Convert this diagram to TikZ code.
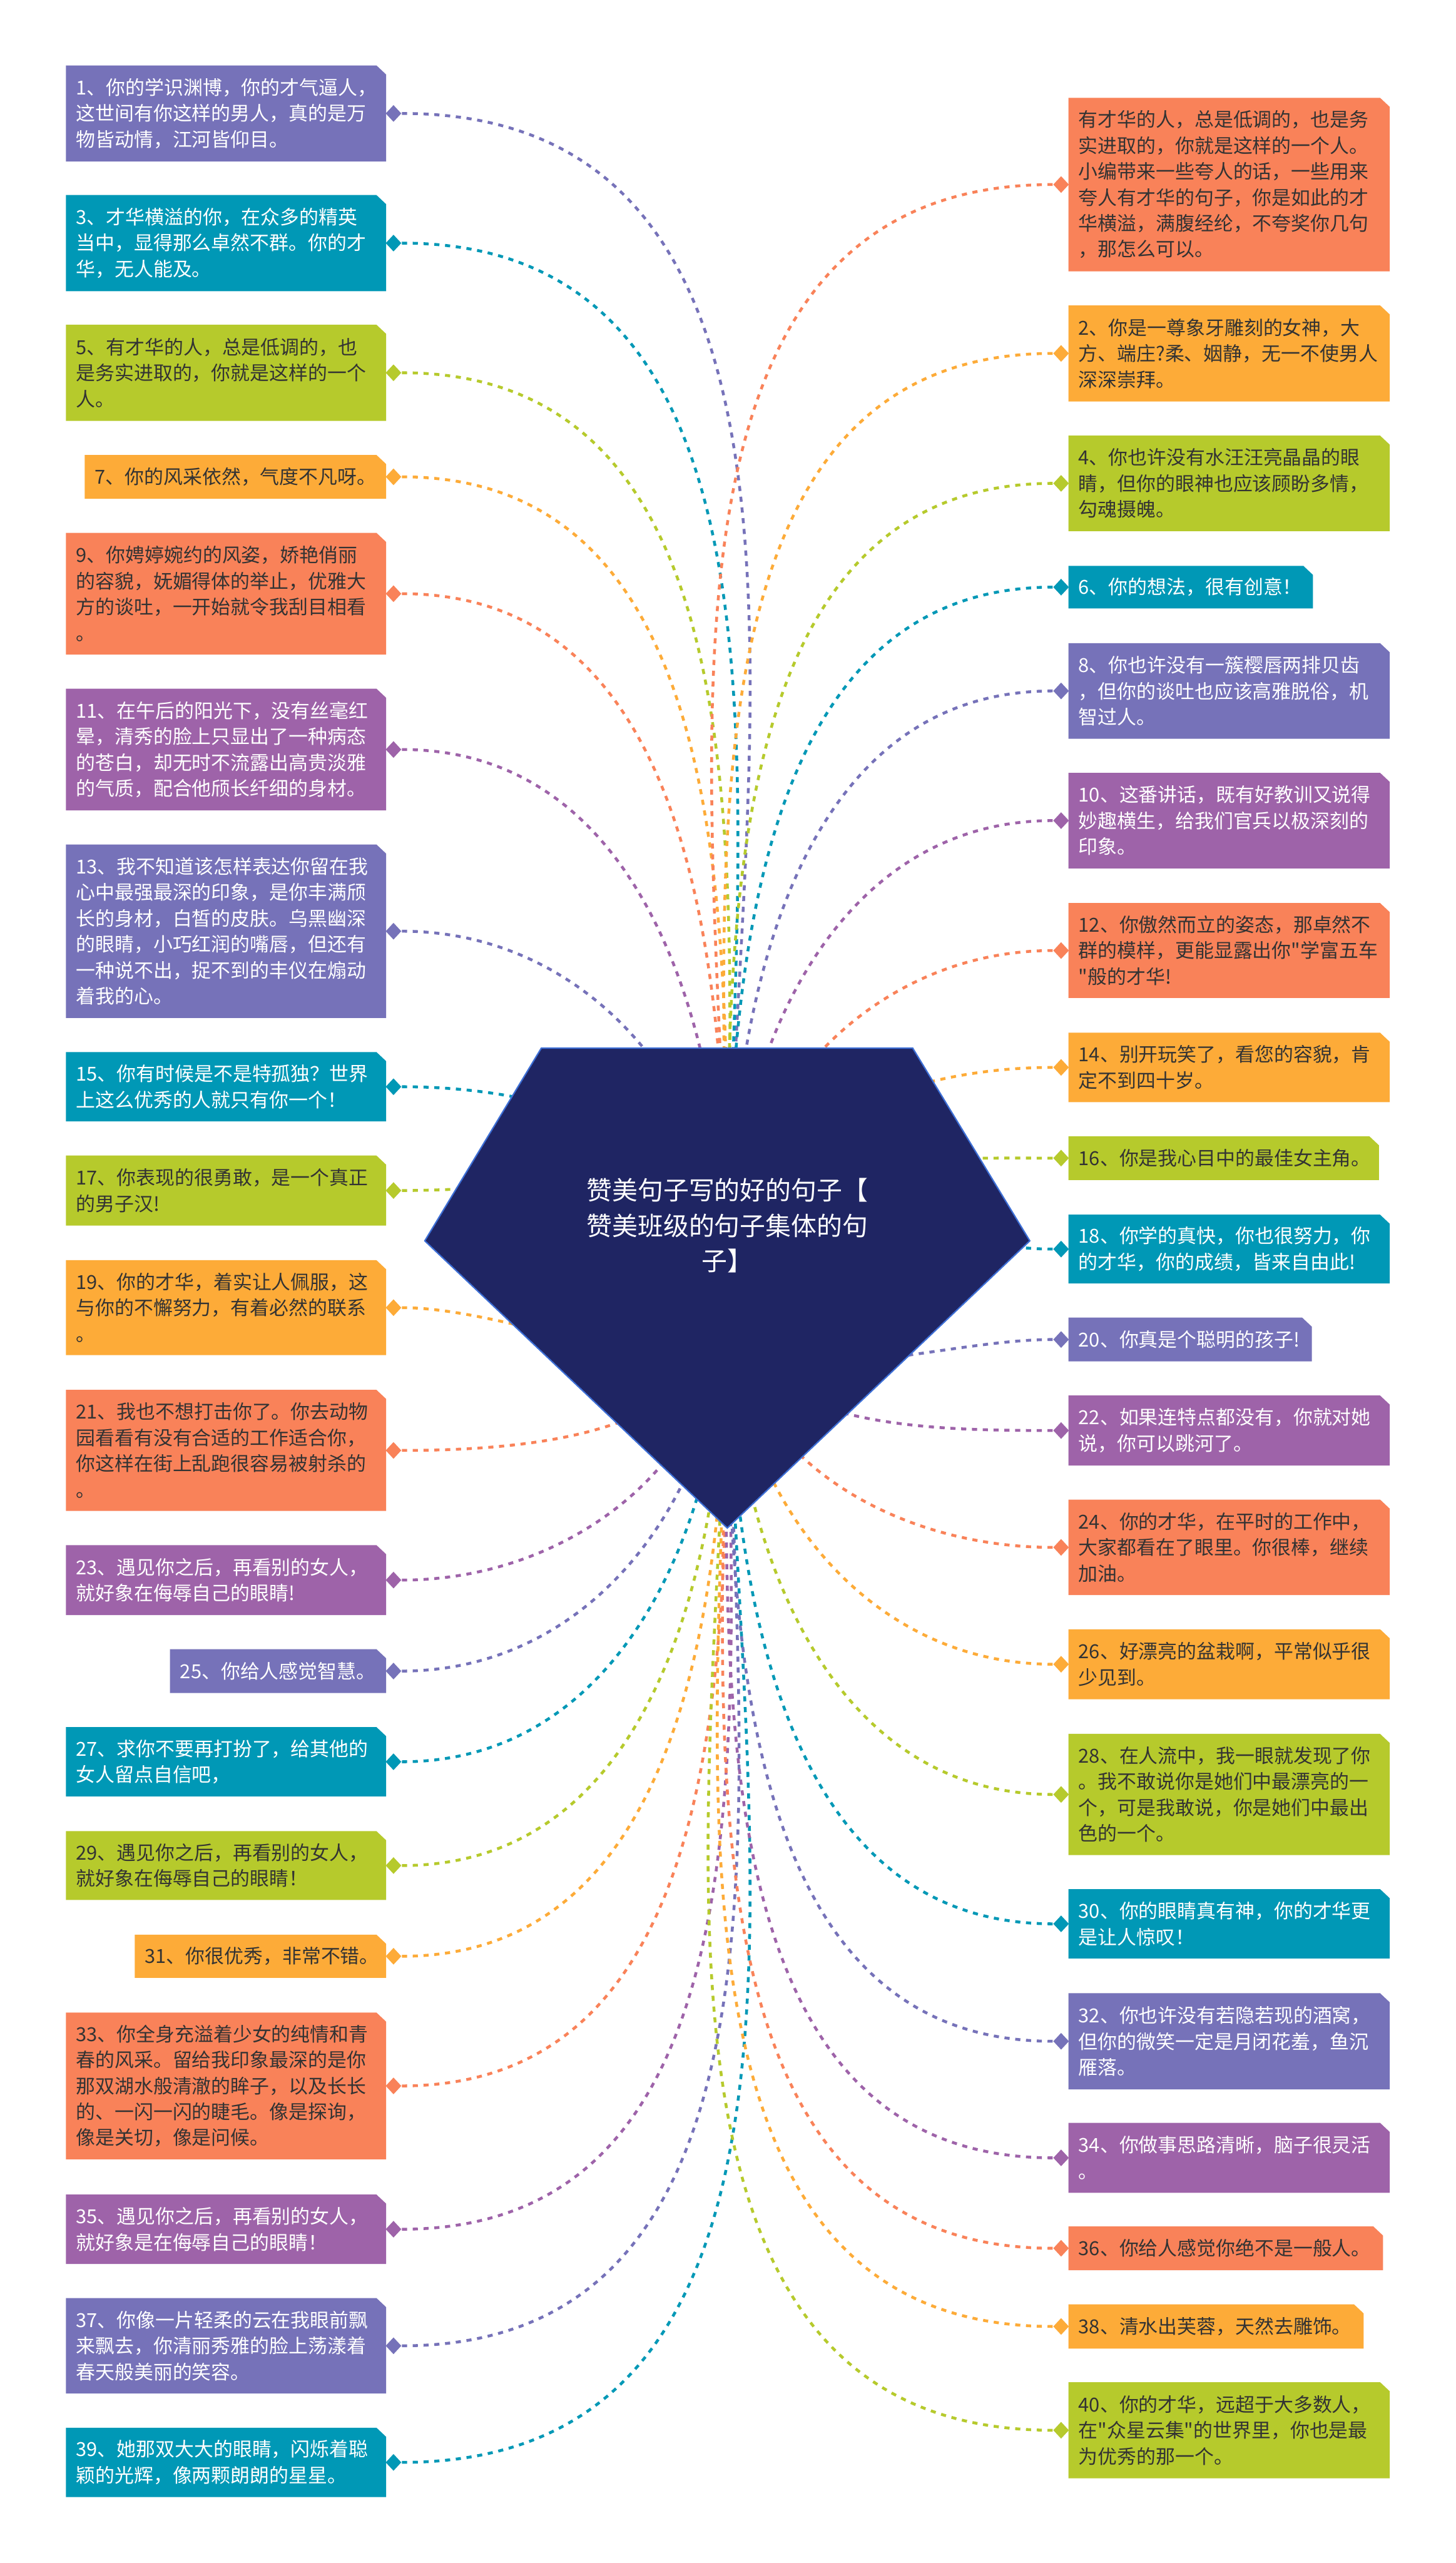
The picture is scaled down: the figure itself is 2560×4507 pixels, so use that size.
\documentclass[tikz,border=0pt]{standalone}
\usepackage{fontspec}
\newfontfamily\cjk{Noto Sans CJK SC}
\usetikzlibrary{shapes.geometric}
\pgfdeclarelayer{bgfill}
\pgfdeclarelayer{bg}
\pgfsetlayers{bgfill,bg,main}
\definecolor{cA}{HTML}{7672B9}
\definecolor{cB}{HTML}{0098B6}
\definecolor{cC}{HTML}{B6CA2C}
\definecolor{cD}{HTML}{FDAB38}
\definecolor{cE}{HTML}{F98259}
\definecolor{cF}{HTML}{9E63A9}
\definecolor{navy}{HTML}{1F2563}
\definecolor{navyedge}{HTML}{3D6FD6}
\definecolor{dk}{HTML}{333333}
\tikzset{
  boxtext/.style={font=\cjk\fontsize{8.5pt}{11.4pt}\selectfont, align=left, inner xsep=4.25pt, inner ysep=0pt},
  dia/.style={diamond, inner sep=0pt, minimum width=7pt, minimum height=7.5pt},
  conn/.style={line width=1.25pt, dash pattern=on 2.25pt off 2.5pt},
  titletext/.style={font=\cjk\fontsize{11.25pt}{15.5pt}\selectfont, align=center, text=white, inner sep=0pt},
}
% left box: id, x1, y1, y2, colour, text colour, in-angle, text
\newcommand{\lbox}[8]{%
  \fill[#5] (#2,#3) -- (662,#3) -- (679,{#3+16}) -- (679,#4) -- (#2,#4) -- cycle;
  \node[boxtext, text=#6, anchor=west] (b#1) at (#2,{(#3+#4)/2}) {#8};
  \node[dia, fill=#5] (d#1) at (692,{(#3+#4)/2}) {};
  \begin{pgfonlayer}{bg}
    \draw[conn, #5] (d#1) to[out=0, in=#7] (hub);
  \end{pgfonlayer}
}
% right box: id, x2, y1, y2, colour, text colour, in-angle, text
\newcommand{\rbox}[8]{%
  \fill[#5] (1879,#3) -- ({#2-17},#3) -- (#2,{#3+16}) -- (#2,#4) -- (1879,#4) -- cycle;
  \node[boxtext, text=#6, anchor=west] (b#1) at (1879,{(#3+#4)/2}) {#8};
  \node[dia, fill=#5] (d#1) at (1866,{(#3+#4)/2}) {};
  \begin{pgfonlayer}{bg}
    \draw[conn, #5] (d#1) to[out=180, in=#7] (hub);
  \end{pgfonlayer}
}
\begin{document}
\begin{tikzpicture}[x=0.25pt, y=-0.25pt]
\begin{pgfonlayer}{bgfill}
\fill[white] (0,0) rectangle (2560,4507);
\end{pgfonlayer}
\useasboundingbox (0,0) rectangle (2560,4507);
\coordinate (hub) at (1279,2265);

% left column
\lbox{1}{116}{115}{284}{cA}{white}{90}{1、你的学识渊博，你的才气逼人，\\这世间有你这样的男人，真的是万\\物皆动情，江河皆仰目。}
\lbox{3}{116}{343}{512}{cB}{white}{90}{3、才华横溢的你，在众多的精英\\当中，显得那么卓然不群。你的才\\华，无人能及。}
\lbox{5}{116}{571}{740}{cC}{dk}{90}{5、有才华的人，总是低调的，也\\是务实进取的，你就是这样的一个\\人。}
\lbox{7}{149}{800}{877}{cD}{dk}{90}{7、你的风采依然，气度不凡呀。}
\lbox{9}{116}{937}{1151}{cE}{dk}{90}{9、你娉婷婉约的风姿，娇艳俏丽\\的容貌，妩媚得体的举止，优雅大\\方的谈吐，一开始就令我刮目相看\\。}
\lbox{11}{116}{1211}{1425}{cF}{white}{90}{11、在午后的阳光下，没有丝毫红\\晕，清秀的脸上只显出了一种病态\\的苍白，却无时不流露出高贵淡雅\\的气质，配合他颀长纤细的身材。}
\lbox{13}{116}{1485}{1790}{cA}{white}{90}{13、我不知道该怎样表达你留在我\\心中最强最深的印象，是你丰满颀\\长的身材，白皙的皮肤。乌黑幽深\\的眼睛，小巧红润的嘴唇，但还有\\一种说不出，捉不到的丰仪在煽动\\着我的心。}
\lbox{15}{116}{1850}{1972}{cB}{white}{90}{15、你有时候是不是特孤独？世界\\上这么优秀的人就只有你一个！}
\lbox{17}{116}{2032}{2155}{cC}{dk}{90}{17、你表现的很勇敢，是一个真正\\的男子汉!}
\lbox{19}{116}{2216}{2383}{cD}{dk}{-90}{19、你的才华，着实让人佩服，这\\与你的不懈努力，有着必然的联系\\。}
\lbox{21}{116}{2444}{2657}{cE}{dk}{-90}{21、我也不想打击你了。你去动物\\园看看有没有合适的工作适合你，\\你这样在街上乱跑很容易被射杀的\\。}
\lbox{23}{116}{2717}{2840}{cF}{white}{-90}{23、遇见你之后，再看别的女人，\\就好象在侮辱自己的眼睛!}
\lbox{25}{299}{2900}{2977}{cA}{white}{-90}{25、你给人感觉智慧。}
\lbox{27}{116}{3037}{3159}{cB}{white}{-90}{27、求你不要再打扮了，给其他的\\女人留点自信吧，}
\lbox{29}{116}{3220}{3341}{cC}{dk}{-90}{29、遇见你之后，再看别的女人，\\就好象在侮辱自己的眼睛！}
\lbox{31}{237}{3402}{3478}{cD}{dk}{-90}{31、你很优秀，非常不错。}
\lbox{33}{116}{3539}{3797}{cE}{dk}{-90}{33、你全身充溢着少女的纯情和青\\春的风采。留给我印象最深的是你\\那双湖水般清澈的眸子，以及长长\\的、一闪一闪的睫毛。像是探询，\\像是关切，像是问候。}
\lbox{35}{116}{3859}{3981}{cF}{white}{-90}{35、遇见你之后，再看别的女人，\\就好象是在侮辱自己的眼睛！}
\lbox{37}{116}{4041}{4209}{cA}{white}{-90}{37、你像一片轻柔的云在我眼前飘\\来飘去，你清丽秀雅的脸上荡漾着\\春天般美丽的笑容。}
\lbox{39}{116}{4269}{4391}{cB}{white}{-90}{39、她那双大大的眼睛，闪烁着聪\\颖的光辉，像两颗朗朗的星星。}

% right column
\rbox{T}{2444}{172}{477}{cE}{dk}{90}{有才华的人，总是低调的，也是务\\实进取的，你就是这样的一个人。\\小编带来一些夸人的话，一些用来\\夸人有才华的句子，你是如此的才\\华横溢，满腹经纶，不夸奖你几句\\，那怎么可以。}
\rbox{2}{2444}{537}{706}{cD}{dk}{90}{2、你是一尊象牙雕刻的女神，大\\方、端庄?柔、姻静，无一不使男人\\深深崇拜。}
\rbox{4}{2444}{766}{934}{cC}{dk}{90}{4、你也许没有水汪汪亮晶晶的眼\\睛，但你的眼神也应该顾盼多情，\\勾魂摄魄。}
\rbox{6}{2309}{995}{1070}{cB}{white}{90}{6、你的想法，很有创意！}
\rbox{8}{2444}{1131}{1299}{cA}{white}{90}{8、你也许没有一簇樱唇两排贝齿\\，但你的谈吐也应该高雅脱俗，机\\智过人。}
\rbox{10}{2444}{1359}{1527}{cF}{white}{90}{10、这番讲话，既有好教训又说得\\妙趣横生，给我们官兵以极深刻的\\印象。}
\rbox{12}{2444}{1588}{1755}{cE}{dk}{90}{12、你傲然而立的姿态，那卓然不\\群的模样，更能显露出你"学富五车\\"般的才华!}
\rbox{14}{2444}{1816}{1938}{cD}{dk}{90}{14、别开玩笑了，看您的容貌，肯\\定不到四十岁。}
\rbox{16}{2425}{1998}{2075}{cC}{dk}{90}{16、你是我心目中的最佳女主角。}
\rbox{18}{2444}{2136}{2257}{cB}{white}{90}{18、你学的真快，你也很努力，你\\的才华，你的成绩，皆来自由此!}
\rbox{20}{2307}{2317}{2394}{cA}{white}{-90}{20、你真是个聪明的孩子!}
\rbox{22}{2444}{2454}{2577}{cF}{white}{-90}{22、如果连特点都没有，你就对她\\说，你可以跳河了。}
\rbox{24}{2444}{2637}{2805}{cE}{dk}{-90}{24、你的才华，在平时的工作中，\\大家都看在了眼里。你很棒，继续\\加油。}
\rbox{26}{2444}{2865}{2988}{cD}{dk}{-90}{26、好漂亮的盆栽啊，平常似乎很\\少见到。}
\rbox{28}{2444}{3049}{3262}{cC}{dk}{-90}{28、在人流中，我一眼就发现了你\\。我不敢说你是她们中最漂亮的一\\个，可是我敢说，你是她们中最出\\色的一个。}
\rbox{30}{2444}{3322}{3444}{cB}{white}{-90}{30、你的眼睛真有神，你的才华更\\是让人惊叹！}
\rbox{32}{2444}{3505}{3674}{cA}{white}{-90}{32、你也许没有若隐若现的酒窝，\\但你的微笑一定是月闭花羞，鱼沉\\雁落。}
\rbox{34}{2444}{3733}{3856}{cF}{white}{-90}{34、你做事思路清晰，脑子很灵活\\。}
\rbox{36}{2432}{3915}{3992}{cE}{dk}{-90}{36、你给人感觉你绝不是一般人。}
\rbox{38}{2398}{4052}{4130}{cD}{dk}{-90}{38、清水出芙蓉，天然去雕饰。}
\rbox{40}{2444}{4189}{4358}{cC}{dk}{-90}{40、你的才华，远超于大多数人，\\在"众星云集"的世界里，你也是最\\为优秀的那一个。}

% central shape
\filldraw[fill=navy, draw=navyedge, line width=0.6pt]
  (952,1843) -- (1605,1843) -- (1811,2182) -- (1279,2687) -- (747,2182) -- cycle;
\node[titletext] (title) at (1279,2155) {赞美句子写的好的句子【\\赞美班级的句子集体的句\\子】};
\end{tikzpicture}
\end{document}
